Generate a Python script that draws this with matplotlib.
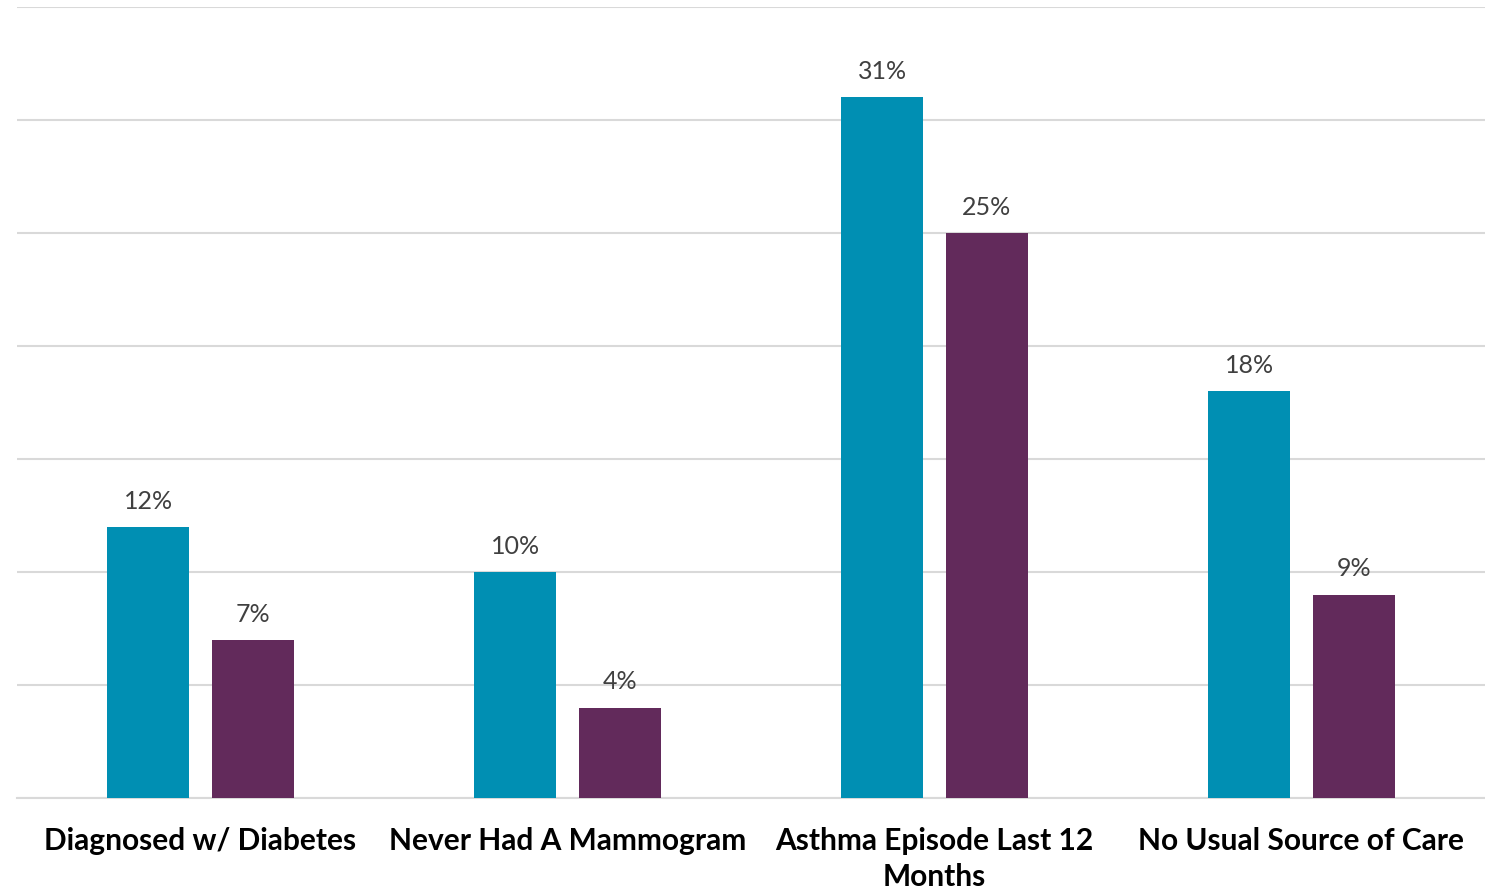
import matplotlib
matplotlib.use("Agg")
import matplotlib.pyplot as plt
import numpy as np

categories = ["Diagnosed w/ Diabetes", "Never Had A Mammogram", "Asthma Episode Last 12\nMonths", "No Usual Source of Care"]
series_a = [12, 10, 31, 18]
series_b = [7, 4, 25, 9]
yticks = [0, 5, 10, 15, 20, 25, 30, 35]

teal = "#008FB3"
purple = "#622A5B"

fig = plt.figure(figsize=(14.85, 8.95), dpi=100)
ax = fig.add_axes([17/1485, 1-799/895, 1-17/1485, (799-8)/895])

x = np.arange(len(categories))
w = 0.223
off = 0.142
b1 = ax.bar(x - off, series_a, w, color=teal, zorder=3)
b2 = ax.bar(x + off, series_b, w, color=purple, zorder=3)

for bars, vals in ((b1, series_a), (b2, series_b)):
    for r, v in zip(bars, vals):
        ax.annotate(f"{v}%", (r.get_x() + r.get_width()/2, r.get_height()),
                    xytext=(0, 11), textcoords="offset points", ha="center", va="bottom",
                    fontsize=18, color="#404040", family="Lato")

ax.set_xlim(-0.5, 3.5)
ax.set_ylim(0, 35)
ax.set_yticks(yticks)
ax.yaxis.grid(True, color="#d9d9d9", linewidth=1.5, zorder=0)
ax.tick_params(axis="y", length=0, labelleft=False)
ax.tick_params(axis="x", length=0, pad=20)
ax.set_xticks(x)
ax.set_xticklabels(categories, fontsize=21.5, fontweight="bold", family="Lato", linespacing=1.35)
for s in ["top", "right", "left"]:
    ax.spines[s].set_visible(False)
ax.spines["bottom"].set_color("#d9d9d9")
ax.spines["bottom"].set_linewidth(1.5)

fig.savefig("out.png", dpi=100)
